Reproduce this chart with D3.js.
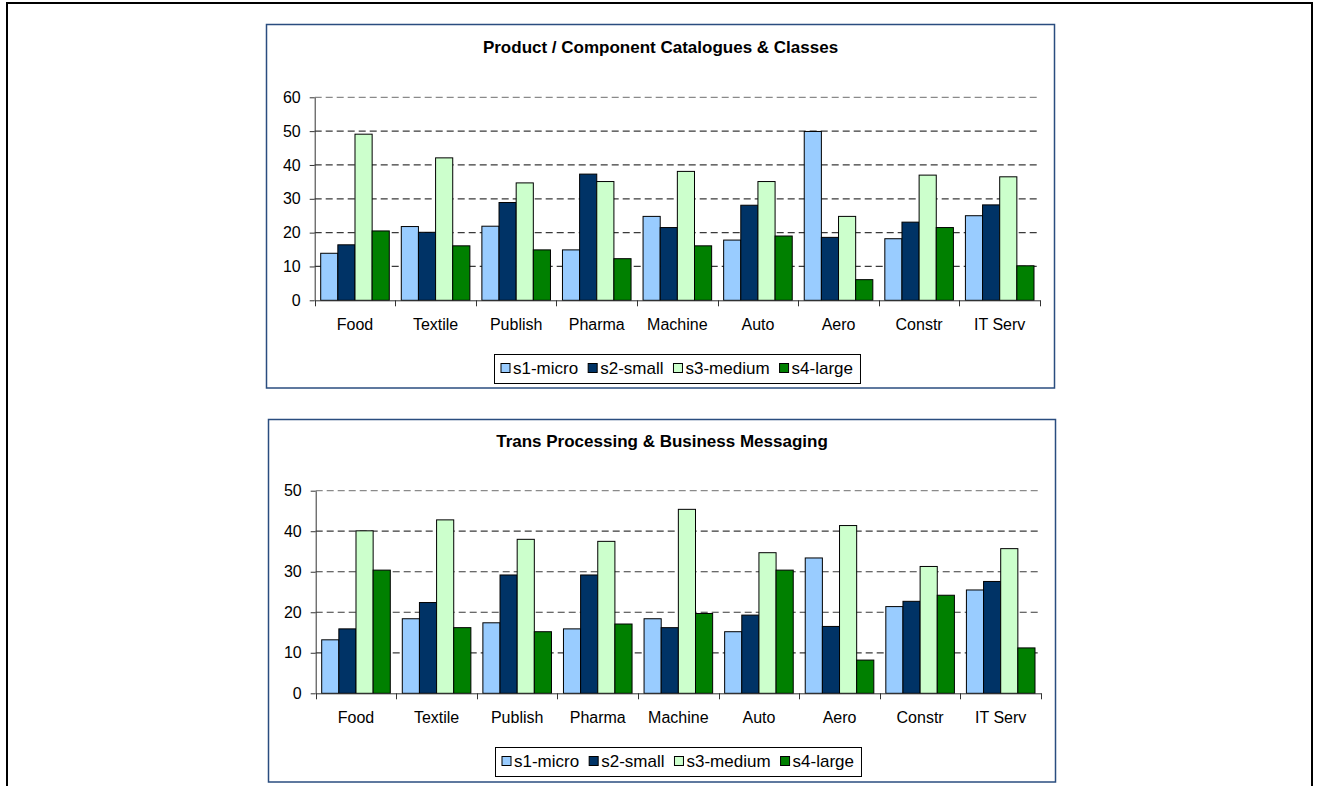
<!DOCTYPE html>
<html>
<head>
<meta charset="utf-8">
<script src="https://cdn.jsdelivr.net/npm/d3@7"></script>
<style>
  body { margin: 0; background: #fff; }
  svg text { font-family: "Liberation Sans", Arial, sans-serif; fill: #000; }
</style>
</head>
<body>
<svg id="page" width="1319" height="786"></svg>
<script>
var categories = ["Food", "Textile", "Publish", "Pharma", "Machine", "Auto", "Aero", "Constr", "IT Serv"];
var seriesNames = ["s1-micro", "s2-small", "s3-medium", "s4-large"];

// Product / Component Catalogues & Classes
var catalogueTicks = [0, 10, 20, 30, 40, 50, 60];
var catalogueMicro  = [13.9, 21.8, 21.9, 14.9, 24.8, 17.8, 49.9, 18.2, 25.0];
var catalogueSmall  = [16.4, 20.1, 28.9, 37.3, 21.5, 28.1, 18.6, 23.1, 28.2];
var catalogueMedium = [49.1, 42.1, 34.7, 35.1, 38.1, 35.1, 24.8, 37.0, 36.5];
var catalogueLarge  = [20.5, 16.1, 14.9, 12.3, 16.1, 19.0, 6.1, 21.5, 10.2];

// Trans Processing & Business Messaging
var messagingTicks = [0, 10, 20, 30, 40, 50];
var messagingMicro  = [13.2, 18.4, 17.4, 15.9, 18.4, 15.2, 33.4, 21.4, 25.5];
var messagingSmall  = [15.9, 22.4, 29.2, 29.2, 16.2, 19.3, 16.5, 22.7, 27.6];
var messagingMedium = [40.1, 42.8, 38.0, 37.5, 45.4, 34.7, 41.4, 31.3, 35.7];
var messagingLarge  = [30.4, 16.2, 15.2, 17.1, 19.7, 30.4, 8.2, 24.2, 11.2];

var colors = d3.scaleOrdinal()
    .domain(seriesNames)
    .range(["#99ccff", "#003366", "#ccffcc", "#008000"]);

var svg = d3.select("#page");

// outer page frame
svg.append("rect")
   .attr("x", 7).attr("y", 3)
   .attr("width", 1305).attr("height", 800)
   .attr("fill", "none")
   .attr("stroke", "#000")
   .attr("stroke-width", 2);

function _drawChart(opts) {
  var box = opts.box,
      plot = opts.plot,
      ticks = opts.ticks,
      series = opts.series;

  var g = svg.append("g");

  g.append("rect")
   .attr("x", box.x).attr("y", box.y)
   .attr("width", box.w).attr("height", box.h)
   .attr("fill", "#fff")
   .attr("stroke", "#2a4d7f")
   .attr("stroke-width", 1.5);

  g.append("text")
   .attr("x", box.x + box.w / 2)
   .attr("y", opts.titleY)
   .attr("text-anchor", "middle")
   .style("font-size", "17px")
   .style("font-weight", "bold")
   .text(opts.title);

  var x = d3.scaleBand()
      .domain(categories)
      .range([plot.left, plot.right])
      .padding(0);

  var xs = d3.scaleBand()
      .domain(seriesNames)
      .range([0, x.bandwidth()])
      .paddingInner(0)
      .paddingOuter(0.35);

  var y = d3.scaleLinear()
      .domain([0, d3.max(ticks)])
      .range([plot.bottom, plot.top]);

  // dashed grid
  g.selectAll("line.grid").data(ticks.filter(function (t) { return t > 0; })).enter()
   .append("line")
   .attr("class", "grid")
   .attr("x1", plot.left).attr("x2", plot.right)
   .attr("y1", function (t) { return y(t); })
   .attr("y2", function (t) { return y(t); })
   .attr("stroke", function (t) { return t === d3.max(ticks) ? "#8a8a8a" : "#3a3a3a"; })
   .attr("stroke-width", 1.2)
   .attr("stroke-dasharray", "7,4");

  // bars
  var rows = [];
  categories.forEach(function (c, i) {
    seriesNames.forEach(function (s, j) {
      rows.push({ cat: c, name: s, value: series[j][i] });
    });
  });

  g.selectAll("rect.bar").data(rows).enter()
   .append("rect")
   .attr("class", "bar")
   .attr("x", function (d) { return x(d.cat) + xs(d.name); })
   .attr("y", function (d) { return y(d.value); })
   .attr("width", xs.bandwidth())
   .attr("height", function (d) { return y(0) - y(d.value); })
   .attr("fill", function (d) { return colors(d.name); })
   .attr("stroke", "#000")
   .attr("stroke-width", 1);

  // value axis
  var yAxis = g.append("g")
      .attr("transform", "translate(" + plot.left + ",0)")
      .call(d3.axisLeft(y).tickValues(ticks).tickSize(5).tickSizeOuter(0).tickPadding(9));
  yAxis.selectAll("text").style("font-size", "16px");
  yAxis.selectAll("line, path").attr("stroke", "#333");

  // category axis
  var xAxis = g.append("g")
      .attr("transform", "translate(0," + plot.bottom + ")")
      .call(d3.axisBottom(x).tickSize(0).tickPadding(18));
  xAxis.selectAll("text").style("font-size", "16px");
  xAxis.select("path").attr("stroke", "#333");

  var edges = categories.map(function (c) { return x(c); }).concat([plot.right]);
  g.selectAll("line.edge").data(edges).enter()
   .append("line")
   .attr("class", "edge")
   .attr("x1", function (d) { return Math.round(d) + 0.5; })
   .attr("x2", function (d) { return Math.round(d) + 0.5; })
   .attr("y1", plot.bottom).attr("y2", plot.bottom + 6)
   .attr("stroke", "#333");

  _drawLegend(g, (plot.left + plot.right) / 2, opts.legendY);
}

function _drawLegend(g, cx, top) {
  var legend = g.append("g"),
      frame = legend.append("rect"),
      pos = 7;

  seriesNames.forEach(function (s) {
    legend.append("rect")
          .attr("x", pos).attr("y", 9.5)
          .attr("width", 9).attr("height", 9)
          .attr("fill", colors(s))
          .attr("stroke", "#000");
    var t = legend.append("text")
          .attr("x", pos + 12).attr("y", 20)
          .style("font-size", "17px")
          .text(s);
    pos += 12 + t.node().getComputedTextLength() + 10;
  });

  var w = pos - 3;
  frame.attr("x", 0.5).attr("y", 0.5)
       .attr("width", w).attr("height", 29)
       .attr("fill", "#fff")
       .attr("stroke", "#000");

  legend.attr("transform", "translate(" + Math.round(cx - w / 2) + "," + top + ")");
}

_drawChart({
  title: "Product / Component Catalogues & Classes",
  box: { x: 266.5, y: 24.5, w: 788, h: 363.5 },
  plot: { left: 314.7, right: 1040, top: 97.3, bottom: 300.3 },
  titleY: 53,
  legendY: 354,
  ticks: catalogueTicks,
  series: [catalogueMicro, catalogueSmall, catalogueMedium, catalogueLarge]
});

_drawChart({
  title: "Trans Processing & Business Messaging",
  box: { x: 268.5, y: 419.5, w: 787, h: 362.5 },
  plot: { left: 315.7, right: 1041, top: 490.7, bottom: 693.3 },
  titleY: 447,
  legendY: 747,
  ticks: messagingTicks,
  series: [messagingMicro, messagingSmall, messagingMedium, messagingLarge]
});
</script>
</body>
</html>
